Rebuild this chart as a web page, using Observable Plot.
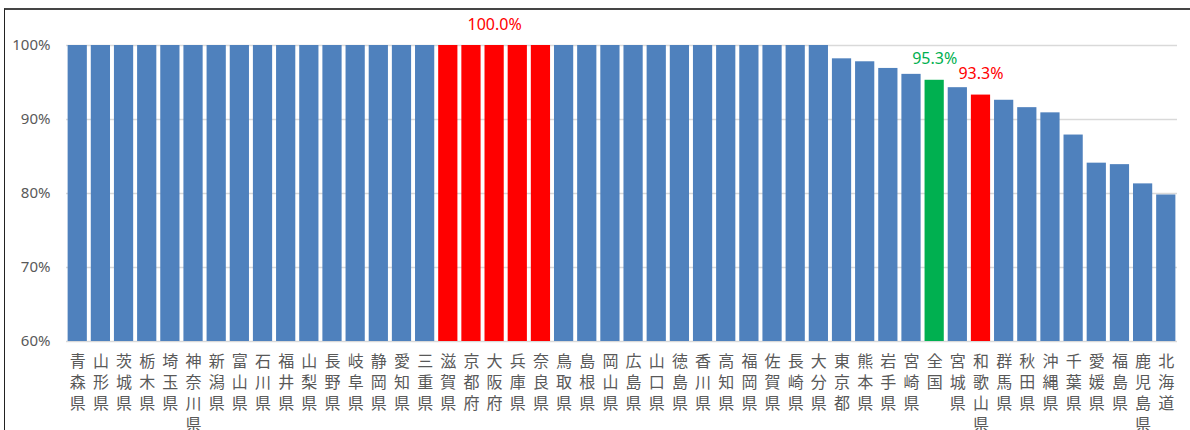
<!DOCTYPE html>
<html>
<head>
<meta charset="utf-8">
<script src="https://cdn.jsdelivr.net/npm/d3@7"></script>
<script src="https://cdn.jsdelivr.net/npm/@observablehq/plot@0.6"></script>
<style>
  html, body { margin: 0; padding: 0; background: #fff; }
  #wrap { position: relative; width: 1190px; height: 430px; overflow: hidden; background: #fff; }
  #frame { position: absolute; left: 4px; top: 8px; width: 1200px; height: 500px;
           border-top: 2px solid #454545; border-left: 1.5px solid #222; pointer-events: none; }
  #chart { position: absolute; left: 0; top: 0; }
</style>
</head>
<body>
<div id="wrap"><div id="chart"></div><div id="frame"></div></div>
<script>
// Categories (prefectures + national average), in displayed order
const prefectures = [
  "青森県","山形県","茨城県","栃木県","埼玉県","神奈川県","新潟県","富山県","石川県","福井県",
  "山梨県","長野県","岐阜県","静岡県","愛知県","三重県","滋賀県","京都府","大阪府","兵庫県",
  "奈良県","鳥取県","島根県","岡山県","広島県","山口県","徳島県","香川県","高知県","福岡県",
  "佐賀県","長崎県","大分県","東京都","熊本県","岩手県","宮崎県","全国","宮城県","和歌山県",
  "群馬県","秋田県","沖縄県","千葉県","愛媛県","福島県","鹿児島県","北海道"
];
// Values (%)
const values = [
  100,100,100,100,100,100,100,100,100,100,
  100,100,100,100,100,100,100,100,100,100,
  100,100,100,100,100,100,100,100,100,100,
  100,100,100,98.2,97.8,96.9,96.1,95.3,94.3,93.3,
  92.6,91.6,90.9,87.9,84.1,83.9,81.3,79.8
];
// Highlight groups
const kinkiPrefs = ["滋賀県","京都府","大阪府","兵庫県","奈良県","和歌山県"];
const nationalName = "全国";
const groupNames = ["その他","近畿","全国"];
const groupColors = ["#4f81bd","#ff0000","#00b050"];
// Value labels
const labelNames = ["大阪府","全国","和歌山県"];
const labelTexts = ["100.0%","95.3%","93.3%"];
// Y ticks
const yTicks = [60,70,80,90,100];

const groupOf = n => n === nationalName ? "全国" : (kinkiPrefs.includes(n) ? "近畿" : "その他");
const data = prefectures.map((name, i) => ({name, value: values[i], group: groupOf(name)}));
const labels = labelNames.map((name, i) => ({
  name, text: labelTexts[i], value: values[prefectures.indexOf(name)], group: groupOf(name)
}));

const cjk = "'Noto Sans CJK JP', 'Noto Sans', sans-serif";

const chart = Plot.plot({
  width: 1190,
  height: 430,
  marginTop: 45,
  marginBottom: 89,
  marginLeft: 66,
  marginRight: 13,
  style: {fontFamily: "'Noto Sans', sans-serif", color: "#595959", background: "#fff"},
  x: {domain: prefectures, paddingInner: 0.17, paddingOuter: 0.07, round: false, axis: null},
  y: {domain: [60, 100], axis: null},
  color: {domain: groupNames, range: groupColors},
  marks: [
    Plot.gridY({ticks: yTicks, stroke: "#d9d9d9", strokeOpacity: 1, strokeWidth: 1.3}),
    Plot.barY(data, {x: "name", y1: () => 60, y2: "value", fill: "group"}),
    Plot.axisY({ticks: yTicks, tickFormat: d => d + "%", tickSize: 0, tickPadding: 16,
                fontSize: 15, label: null, fill: "#595959"}),
    Plot.axisX({tickSize: 0, tickPadding: 11, fontSize: 16, lineHeight: 1.3,
                fontFamily: cjk, label: null, fill: "#595959",
                tickFormat: d => d.split("").join("\n")}),
    Plot.text(labels, {x: "name", y: "value", text: "text", fill: "group",
                       dy: -21, fontSize: 16})
  ]
});
document.getElementById("chart").appendChild(chart);
</script>
</body>
</html>
